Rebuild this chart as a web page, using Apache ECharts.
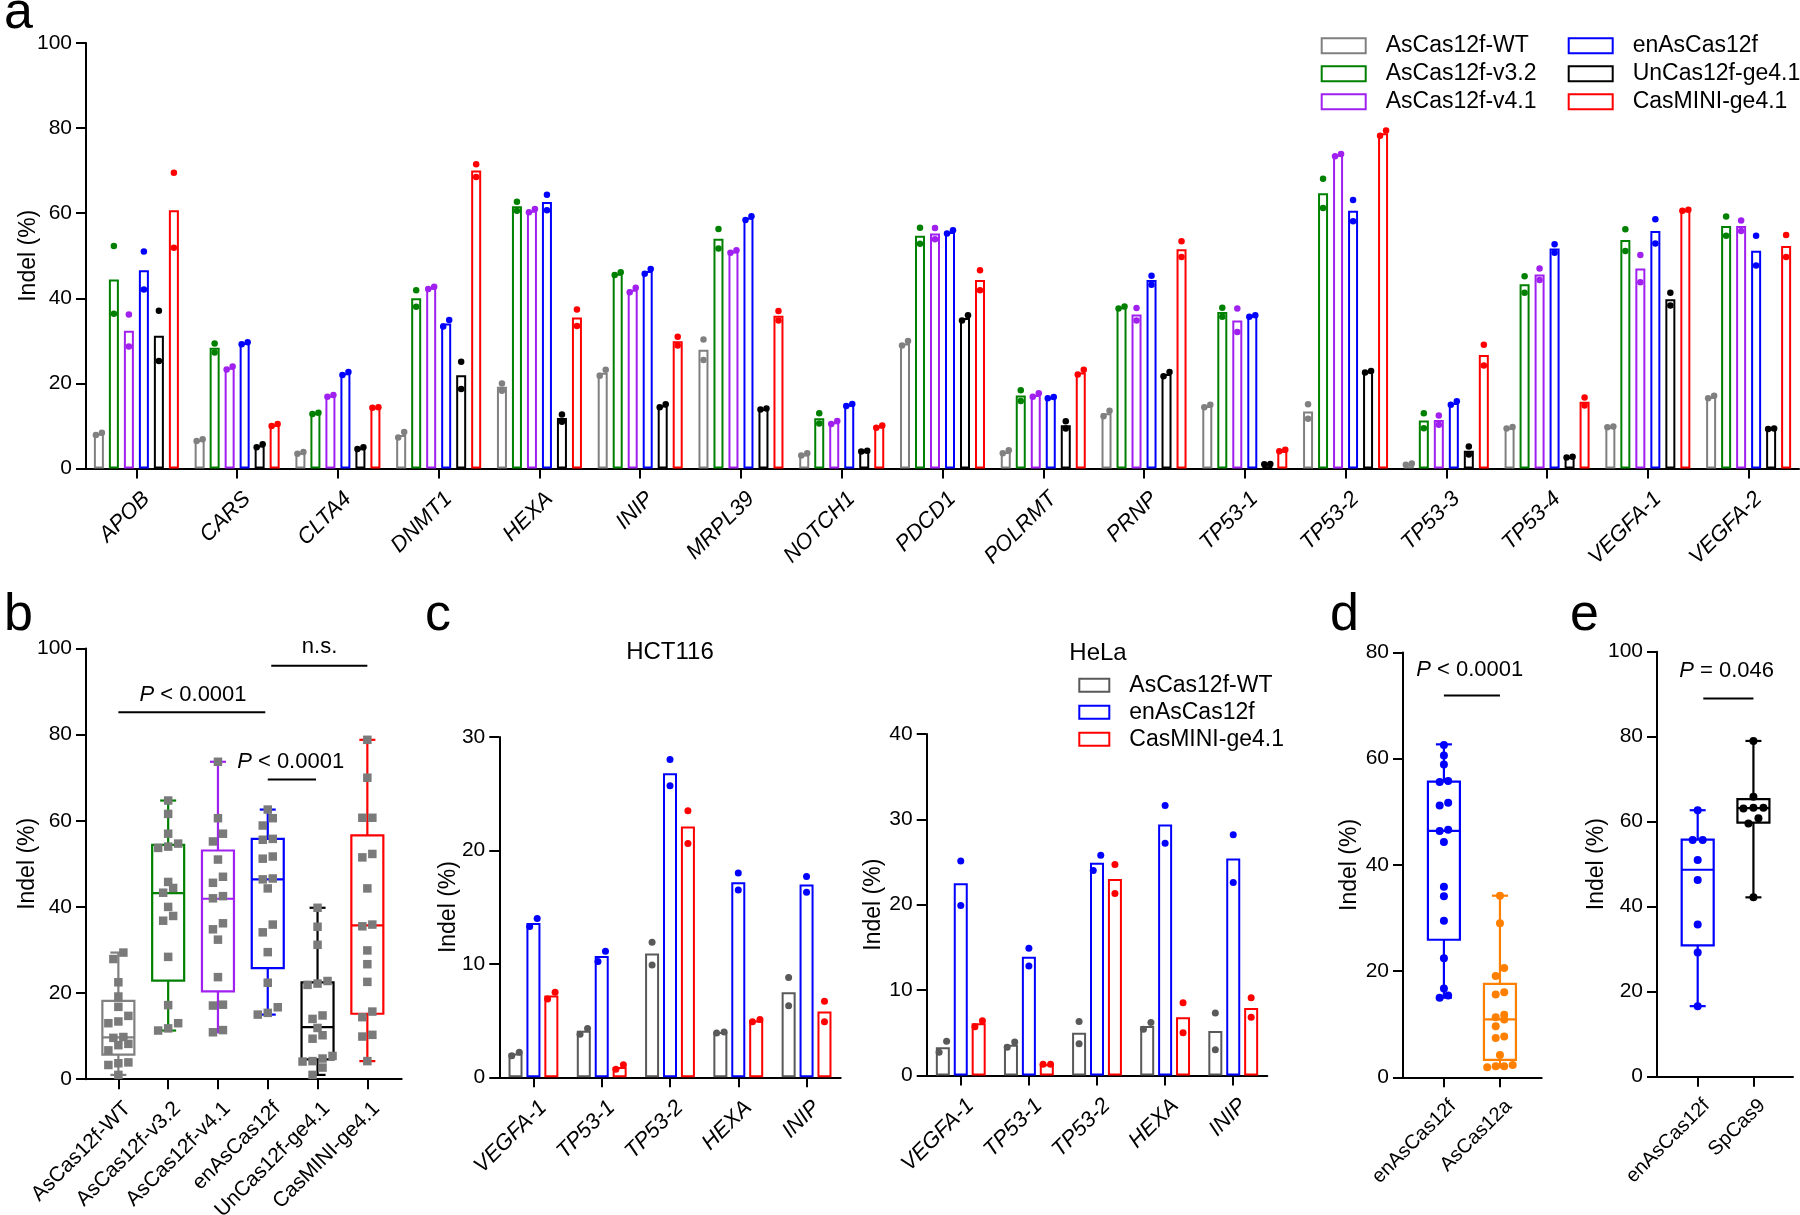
<!DOCTYPE html>
<html>
<head>
<meta charset="utf-8">
<script src="https://cdn.jsdelivr.net/npm/echarts@6/dist/echarts.min.js"></script>
<style>html,body{margin:0;padding:0;background:#fff}#chart{width:1800px;height:1215px}</style>
</head>
<body>
<div id="chart"></div>
<script>
// ---------------- DATA ----------------
const targetsA = ['APOB','CARS','CLTA4','DNMT1','HEXA','INIP','MRPL39','NOTCH1','PDCD1','POLRMT','PRNP','TP53-1','TP53-2','TP53-3','TP53-4','VEGFA-1','VEGFA-2'];
const variantNames = ['AsCas12f-WT','AsCas12f-v3.2','AsCas12f-v4.1','enAsCas12f','UnCas12f-ge4.1','CasMINI-ge4.1'];

const wtMean  = [8.2, 6.7, 3.7, 7.9, 19.2, 22.5, 27.9, 3.3, 29.4, 3.9, 13.0, 14.7, 13.4, 1.0, 9.6, 9.8, 16.8];
const wtRep1  = [7.9, 6.5, 3.5, 7.3, 20.0, 21.8, 30.3, 3.1, 28.9, 3.6, 12.3, 14.4, 15.1, 0.9, 9.4, 9.7, 16.5];
const wtRep2  = [8.4, 6.9, 3.9, 8.6, 18.3, 23.2, 25.5, 3.6, 30.0, 4.3, 13.6, 15.0, 11.7, 1.2, 9.8, 9.9, 17.1];
const v32Mean = [44.4, 28.4, 13.0, 40.0, 61.6, 45.8, 54.0, 11.8, 54.7, 17.2, 37.9, 36.8, 64.7, 11.3, 43.3, 53.7, 57.0];
const v32Rep1 = [52.3, 29.4, 12.8, 41.9, 62.7, 45.5, 56.3, 13.0, 56.6, 18.4, 37.6, 37.8, 68.1, 13.0, 45.2, 56.2, 59.2];
const v32Rep2 = [36.4, 27.3, 13.1, 38.0, 60.6, 46.1, 51.7, 10.6, 52.8, 15.9, 38.1, 35.7, 61.2, 9.5, 41.3, 51.1, 54.7];
const v41Mean = [32.4, 23.7, 17.1, 42.5, 60.6, 42.0, 51.0, 10.9, 55.2, 17.3, 36.2, 34.8, 73.7, 11.4, 45.6, 47.0, 57.0];
const v41Rep1 = [36.2, 23.3, 16.9, 42.2, 60.2, 41.4, 50.7, 10.5, 56.5, 16.9, 37.7, 37.6, 73.4, 12.5, 47.0, 50.2, 58.3];
const v41Rep2 = [28.7, 24.0, 17.3, 42.7, 61.0, 42.5, 51.3, 11.2, 53.9, 17.7, 34.8, 32.1, 73.9, 10.3, 44.3, 43.8, 55.8];
const enMean  = [46.6, 29.5, 22.4, 34.1, 62.6, 46.4, 58.9, 15.0, 55.6, 16.7, 44.3, 35.9, 60.6, 15.4, 51.7, 55.8, 51.2];
const enRep1  = [51.0, 29.2, 22.0, 34.9, 64.3, 45.8, 58.4, 14.7, 55.2, 16.5, 45.3, 35.7, 63.1, 15.0, 52.7, 58.6, 54.7];
const enRep2  = [42.1, 29.7, 22.7, 33.4, 60.7, 46.9, 59.3, 15.2, 56.0, 16.8, 43.2, 36.0, 58.1, 15.8, 50.7, 52.9, 47.7];
const unMean  = [31.2, 5.4, 4.8, 21.9, 11.9, 14.8, 14.0, 4.1, 35.4, 10.2, 22.2, 1.0, 22.8, 4.2, 2.7, 39.8, 9.4];
const unRep1  = [37.1, 5.0, 4.6, 25.1, 12.7, 14.4, 13.9, 4.0, 34.8, 11.1, 21.7, 1.0, 22.6, 5.2, 2.6, 41.3, 9.3];
const unRep2  = [25.3, 5.7, 5.0, 18.7, 11.0, 15.1, 14.1, 4.2, 36.0, 9.4, 22.7, 1.1, 22.9, 3.3, 2.8, 38.3, 9.4];
const miniMean = [60.7, 10.3, 14.4, 70.0, 35.5, 29.9, 35.9, 9.9, 44.3, 22.6, 51.5, 4.2, 78.8, 26.7, 15.7, 60.7, 52.3];
const miniRep1 = [69.5, 10.0, 14.3, 71.5, 37.4, 31.0, 37.0, 9.6, 46.6, 22.1, 53.4, 4.1, 78.2, 29.1, 16.7, 60.6, 54.9];
const miniRep2 = [51.9, 10.5, 14.4, 68.5, 33.5, 28.9, 34.8, 10.1, 41.9, 23.2, 49.7, 4.4, 79.4, 24.2, 14.8, 60.8, 49.7];

// panel b: box statistics [min, Q1, median, Q3, max] per variant (points = panel a means)
const boxStatsB = [
  [1.0, 5.7, 9.7, 18.2, 29.4],
  [11.3, 22.9, 43.2, 54.4, 64.7],
  [10.9, 20.4, 41.9, 53.1, 73.7],
  [15.0, 25.8, 46.4, 55.8, 62.6],
  [1.0, 4.6, 12.1, 22.5, 39.8],
  [4.2, 15.2, 35.7, 56.6, 78.8]
];

// panel c
const cTargets = ['VEGFA-1','TP53-1','TP53-2','HEXA','INIP'];
const cNames = ['AsCas12f-WT','enAsCas12f','CasMINI-ge4.1'];
const hctWtMean   = [2.1, 4.1, 10.9, 4.0, 7.5];
const hctWtRep1   = [1.9, 3.8, 11.9, 3.9, 8.8];
const hctWtRep2   = [2.2, 4.3, 9.9, 4.0, 6.3];
const hctEnMean   = [13.6, 10.7, 26.8, 17.2, 17.0];
const hctEnRep1   = [13.3, 10.2, 28.0, 18.0, 17.7];
const hctEnRep2   = [14.0, 11.1, 25.7, 16.5, 16.3];
const hctMiniMean = [7.2, 0.9, 22.1, 5.0, 5.8];
const hctMiniRep1 = [6.9, 0.7, 23.5, 4.9, 6.7];
const hctMiniRep2 = [7.5, 1.1, 20.6, 5.1, 4.9];
const helaWtMean   = [3.3, 3.6, 5.0, 5.8, 5.2];
const helaWtRep1   = [2.7, 3.3, 6.3, 5.4, 7.3];
const helaWtRep2   = [4.0, 3.9, 3.7, 6.2, 3.0];
const helaEnMean   = [22.5, 13.9, 24.9, 29.4, 25.4];
const helaEnRep1   = [25.1, 14.9, 24.0, 31.6, 28.2];
const helaEnRep2   = [19.9, 12.8, 25.8, 27.2, 22.6];
const helaMiniMean = [6.1, 1.3, 23.0, 6.8, 7.9];
const helaMiniRep1 = [5.7, 1.3, 24.7, 8.5, 9.1];
const helaMiniRep2 = [6.4, 1.3, 21.3, 5.0, 6.8];

// panel d (enAsCas12f points = panel a enAsCas12f means)
const dCats = ['enAsCas12f','AsCas12a'];
const dAsCas12a = [34.2, 29.0, 20.6, 19.1, 16.0, 15.6, 11.8, 10.9, 11.3, 9.6, 7.7, 7.4, 4.2, 2.1, 1.9, 2.1, 2.3];
const dBoxStats = [[15.0, 25.9, 46.4, 55.7, 62.7], [1.9, 3.3, 10.9, 17.6, 34.2]];

// panel e
const eCats = ['enAsCas12f','SpCas9'];
const eEnAs   = [62.7, 55.7, 55.7, 51.0, 46.3, 35.8, 29.2, 16.6];
const eSpCas9 = [79.0, 65.9, 63.3, 63.1, 63.3, 60.8, 59.6, 42.2];
const eBoxStats = [[16.6, 30.9, 48.7, 55.8, 62.7], [42.2, 59.8, 63.2, 65.3, 79.0]];

// significance annotations: [x1, x2, lineY, textX, textY]
const sigB = [[0, 2.95, 85.2, 1.5, 89.2], [3.07, 5.0, 96.0, 4.04, 100.3], [3.0, 3.97, 69.6, 3.46, 73.6]];
const sigBText = ['{i|P} < 0.0001', 'n.s.', '{i|P} < 0.0001'];
const sigD = [[0, 1, 71.9, 0.46, 76.8]];
const sigDText = ['{i|P} < 0.0001'];
const sigE = [[0.1, 1.0, 89.0, 0.52, 95.5]];
const sigEText = ['{i|P} = 0.046'];

// ---------------- STYLE ----------------
const FONT = 'Liberation Sans, Arial, Helvetica, sans-serif';
const colorsA = ['#808080', '#008000', '#a020f0', '#0000ff', '#000000', '#ff0000'];
const colorsC = ['#595959', '#0000ff', '#ff0000'];
const colorsD = ['#0000ff', '#ff8000'];
const colorsE = ['#0000ff', '#000000'];

function layoutSwarm(points, api, thresh, step) {
  const offs = points.map(() => 0);
  const groups = new Map();
  points.forEach((d, i) => {
    if (!groups.has(d[0])) groups.set(d[0], []);
    groups.get(d[0]).push(i);
  });
  groups.forEach(idx => {
    const items = idx.map(i => ({ i, v: points[i][1], y: api.coord([points[i][0], points[i][1]])[1] }));
    items.sort((a, b) => b.y - a.y);
    let row = [];
    const flush = () => {
      row.sort((a, b) => a.v - b.v);
      row.forEach((it, j) => { offs[it.i] = (j - (row.length - 1) / 2) * step; });
      row = [];
    };
    items.forEach(it => {
      if (row.length && Math.abs(it.y - row[0].y) >= thresh) flush();
      row.push(it);
    });
    if (row.length) flush();
  });
  return offs;
}

function pointSeries(ax, points, o) {
  return {
    type: 'custom', xAxisIndex: ax, yAxisIndex: ax, silent: true, z: 6, clip: false,
    data: points, encode: { x: 0, y: 1 },
    renderItem(params, api) {
      const ctx = params.context;
      if (!ctx.offs) ctx.offs = layoutSwarm(points, api, o.thresh, o.step);
      const d = points[params.dataIndex];
      const p = api.coord([d[0], d[1]]);
      const cx = p[0] + ctx.offs[params.dataIndex] + (o.shift || 0);
      const r = o.size / 2;
      const color = o.colorOf(d);
      if (o.square) {
        return { type: 'rect', shape: { x: cx - r, y: p[1] - r, width: 2 * r, height: 2 * r }, style: { fill: color } };
      }
      return { type: 'circle', shape: { cx: cx, cy: p[1], r: r }, style: { fill: color } };
    }
  };
}

function boxSeries(ax, stats, colors, hw, cw) {
  return {
    type: 'custom', xAxisIndex: ax, yAxisIndex: ax, silent: true, z: 4, clip: false,
    data: stats.map((s, k) => [k].concat(s)), encode: { x: 0, y: [1, 2, 3, 4, 5] },
    renderItem(params, api) {
      const k = api.value(0);
      const P = j => api.coord([k, api.value(j)]);
      const mn = P(1), q1 = P(2), md = P(3), q3 = P(4), mx = P(5);
      const x = mn[0];
      const st = () => ({ stroke: colors[k], lineWidth: 2.2, fill: 'none' });
      return { type: 'group', children: [
        { type: 'line', shape: { x1: x, y1: mx[1], x2: x, y2: q3[1] }, style: st() },
        { type: 'line', shape: { x1: x, y1: q1[1], x2: x, y2: mn[1] }, style: st() },
        { type: 'line', shape: { x1: x - cw, y1: mx[1], x2: x + cw, y2: mx[1] }, style: st() },
        { type: 'line', shape: { x1: x - cw, y1: mn[1], x2: x + cw, y2: mn[1] }, style: st() },
        { type: 'rect', shape: { x: x - hw, y: q3[1], width: 2 * hw, height: q1[1] - q3[1] }, style: st() },
        { type: 'line', shape: { x1: x - hw, y1: md[1], x2: x + hw, y2: md[1] }, style: st() }
      ] };
    }
  };
}

function sigSeries(ax, items, texts) {
  return {
    type: 'custom', xAxisIndex: ax, yAxisIndex: ax, silent: true, z: 7, clip: false,
    data: items, encode: { x: [0, 1, 3], y: [2, 4] },
    renderItem(params, api) {
      const d = items[params.dataIndex];
      const a = api.coord([d[0], d[2]]), b = api.coord([d[1], d[2]]), t = api.coord([d[3], d[4]]);
      return { type: 'group', children: [
        { type: 'line', shape: { x1: a[0], y1: a[1], x2: b[0], y2: b[1] }, style: { stroke: '#000', lineWidth: 2 } },
        { type: 'text', x: t[0], y: t[1], style: {
          text: texts[params.dataIndex], fontSize: 22, fontFamily: FONT, fill: '#000',
          align: 'center', verticalAlign: 'middle',
          rich: { i: { fontStyle: 'italic', fontSize: 22, fontFamily: FONT, fill: '#000' } } } }
      ] };
    }
  };
}

function yAx(grid, max, interval, nameGap) {
  return {
    type: 'value', gridIndex: grid, min: 0, max: max, interval: interval,
    name: 'Indel (%)', nameLocation: 'middle', nameGap: nameGap, nameMoveOverlap: false,
    nameTextStyle: { fontSize: 23, color: '#000', fontFamily: FONT },
    axisLine: { show: true, onZero: false, lineStyle: { color: '#000', width: 2 } },
    axisTick: { show: true, length: 10, lineStyle: { color: '#000', width: 2 } },
    axisLabel: { fontSize: 21, color: '#000', margin: 14, fontFamily: FONT },
    splitLine: { show: false }
  };
}
function xLabel(fontSize, italic) {
  return { rotate: 45, fontStyle: italic ? 'italic' : 'normal', fontSize: fontSize, color: '#000',
    margin: 17, verticalAlign: 'top', lineHeight: Math.round(fontSize * 1.25), fontFamily: FONT };
}
function catX(grid, cats, fontSize) {
  return {
    type: 'category', gridIndex: grid, data: cats, boundaryGap: true,
    axisLine: { show: true, onZero: false, lineStyle: { color: '#000', width: 2 } },
    axisTick: { show: true, alignWithLabel: true, length: 10, lineStyle: { color: '#000', width: 2 } },
    axisLabel: Object.assign(xLabel(fontSize, true), { interval: 0 }),
    splitLine: { show: false }
  };
}
function valX(grid, min, max, cats, fontSize) {
  const ticks = cats.map((_, i) => i);
  return {
    type: 'value', gridIndex: grid, min: min, max: max,
    axisLine: { show: true, onZero: false, lineStyle: { color: '#000', width: 2 } },
    axisTick: { show: true, customValues: ticks, length: 10, lineStyle: { color: '#000', width: 2 } },
    axisLabel: Object.assign(xLabel(fontSize, false), { customValues: ticks, formatter: v => cats[Math.round(v)] }),
    splitLine: { show: false }
  };
}

// ---------------- SERIES ----------------
const series = [];
const meansA = [wtMean, v32Mean, v41Mean, enMean, unMean, miniMean];
const rep1A = [wtRep1, v32Rep1, v41Rep1, enRep1, unRep1, miniRep1];
const rep2A = [wtRep2, v32Rep2, v41Rep2, enRep2, unRep2, miniRep2];
const BW_A = 10, GAP_A = 0.5;
meansA.forEach((m, k) => {
  series.push({ type: 'bar', name: variantNames[k], xAxisIndex: 0, yAxisIndex: 0, data: m,
    barWidth: BW_A, barGap: (GAP_A * 100) + '%', silent: true, z: 2,
    itemStyle: { color: '#ffffff', borderColor: colorsA[k], borderWidth: 2 } });
});
meansA.forEach((m, k) => {
  const pts = [];
  targetsA.forEach((t, i) => { pts.push([i, rep1A[k][i]]); pts.push([i, rep2A[k][i]]); });
  series.push(pointSeries(0, pts, { size: 6.5, thresh: 6.5, step: 6, shift: (k - 2.5) * BW_A * (1 + GAP_A), colorOf: () => colorsA[k] }));
});

// panel b
series.push(boxSeries(1, boxStatsB, colorsA, 16, 8));
const ptsB = [];
meansA.forEach((m, k) => m.forEach(v => ptsB.push([k, v])));
series.push(pointSeries(1, ptsB, { size: 8.5, thresh: 8.5, step: 10, square: true, colorOf: () => '#7a7a7a' }));
series.push(sigSeries(1, sigB, sigBText));

// panel c
const BW_C = 14, GAP_C = 0.28;
const hctMeans = [hctWtMean, hctEnMean, hctMiniMean];
const hctR1 = [hctWtRep1, hctEnRep1, hctMiniRep1];
const hctR2 = [hctWtRep2, hctEnRep2, hctMiniRep2];
const helaMeans = [helaWtMean, helaEnMean, helaMiniMean];
const helaR1 = [helaWtRep1, helaEnRep1, helaMiniRep1];
const helaR2 = [helaWtRep2, helaEnRep2, helaMiniRep2];
[[2, hctMeans, hctR1, hctR2], [3, helaMeans, helaR1, helaR2]].forEach(([ax, means, r1, r2]) => {
  means.forEach((m, k) => {
    series.push({ type: 'bar', name: cNames[k], xAxisIndex: ax, yAxisIndex: ax, data: m,
      barWidth: BW_C, barGap: (GAP_C * 100) + '%', silent: true, z: 2,
      itemStyle: { color: '#ffffff', borderColor: colorsC[k], borderWidth: 2 } });
  });
  means.forEach((m, k) => {
    const pts = [];
    cTargets.forEach((t, i) => { pts.push([i, r1[k][i]]); pts.push([i, r2[k][i]]); });
    series.push(pointSeries(ax, pts, { size: 7, thresh: 15.6, step: 7.5, shift: (k - 1) * BW_C * (1 + GAP_C), colorOf: () => colorsC[k] }));
  });
});

// panel d
series.push(boxSeries(4, dBoxStats, colorsD, 16, 8));
const ptsD = enMean.map(v => [0, v]).concat(dAsCas12a.map(v => [1, v]));
series.push(pointSeries(4, ptsD, { size: 8, thresh: 8, step: 8.5, colorOf: d => colorsD[d[0]] }));
series.push(sigSeries(4, sigD, sigDText));

// panel e
series.push(boxSeries(5, eBoxStats, colorsE, 16, 8));
const ptsE = eEnAs.map(v => [0, v]).concat(eSpCas9.map(v => [1, v]));
series.push(pointSeries(5, ptsE, { size: 8, thresh: 8, step: 10, colorOf: d => colorsE[d[0]] }));
series.push(sigSeries(5, sigE, sigEText));

// ---------------- OPTION ----------------
const legendBase = {
  orient: 'vertical', padding: 0, itemGap: 5, selectedMode: false,
  textStyle: { fontSize: 23, color: '#000', fontFamily: FONT, padding: [0, 0, 0, 15] }
};
const txt = (text, x, y, size, align) => ({ type: 'text', x: x, y: y, silent: true,
  style: { text: text, fontSize: size, fontFamily: FONT, fill: '#000', align: align || 'left', verticalAlign: 'middle' } });

const option = {
  animation: false,
  backgroundColor: '#ffffff',
  textStyle: { fontFamily: FONT, color: '#000' },
  grid: [
    { left: 86, top: 42.9, width: 1713, height: 425.7, outerBoundsMode: 'none' },
    { left: 86, top: 648.5, width: 315.7, height: 430.7, outerBoundsMode: 'none' },
    { left: 499.3, top: 736.9, width: 341.4, height: 340.4, outerBoundsMode: 'none' },
    { left: 926.7, top: 733.9, width: 340.6, height: 341.5, outerBoundsMode: 'none' },
    { left: 1403, top: 652.5, width: 138.7, height: 424.8, outerBoundsMode: 'none' },
    { left: 1657, top: 651.7, width: 136, height: 425, outerBoundsMode: 'none' }
  ],
  xAxis: [
    catX(0, targetsA, 22),
    valX(1, -0.65, 5.69, variantNames, 21),
    catX(2, cTargets, 22),
    catX(3, cTargets, 22),
    valX(4, -0.73, 1.745, dCats, 20),
    valX(5, -0.73, 1.71, eCats, 20)
  ],
  yAxis: [
    yAx(0, 100, 20, 45.5),
    yAx(1, 100, 20, 46.5),
    yAx(2, 30, 10, 39.5),
    yAx(3, 40, 10, 42),
    yAx(4, 80, 20, 41.5),
    yAx(5, 100, 20, 49)
  ],
  legend: [
    Object.assign({}, legendBase, { left: 1320.7, top: 34.3, itemWidth: 44, itemHeight: 15,
      data: variantNames.slice(0, 3).map((n, i) => ({ name: n, icon: 'rect', itemStyle: { color: '#fff', borderColor: colorsA[i], borderWidth: 2 } })) }),
    Object.assign({}, legendBase, { left: 1567.7, top: 34.3, itemWidth: 44, itemHeight: 15,
      data: variantNames.slice(3).map((n, i) => ({ name: n, icon: 'rect', itemStyle: { color: '#fff', borderColor: colorsA[i + 3], borderWidth: 2 } })) }),
    Object.assign({}, legendBase, { left: 1078.3, top: 673.8, itemWidth: 30, itemHeight: 13, itemGap: 4,
      data: cNames.map((n, i) => ({ name: n, icon: 'rect', itemStyle: { color: '#fff', borderColor: colorsC[i], borderWidth: 2 } })) })
  ],
  graphic: [
    txt('a', 4, 14, 52),
    txt('b', 4, 616, 52),
    txt('c', 425, 616, 52),
    txt('d', 1330, 616, 52),
    txt('e', 1570, 616, 52),
    txt('HCT116', 670, 652, 24, 'center'),
    txt('HeLa', 1098, 653, 24, 'center')
  ],
  series: series
};

const chart = echarts.init(document.getElementById('chart'), null, { renderer: 'canvas', width: 1800, height: 1215 });
chart.setOption(option);
</script>
</body>
</html>
